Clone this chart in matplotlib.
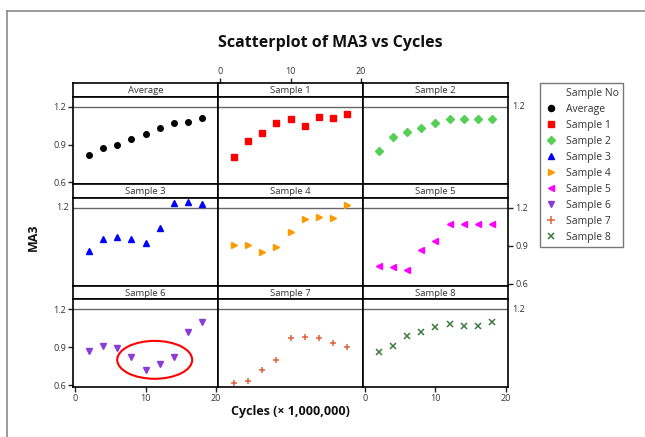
import matplotlib
matplotlib.use("Agg")
import matplotlib.pyplot as plt
from matplotlib.lines import Line2D
from matplotlib.patches import Ellipse

plt.rcParams['font.family'] = ['Open Sans', 'DejaVu Sans']

cycles = [2, 4, 6, 8, 10, 12, 14, 16, 18]
panel_names = ["Average", "Sample 1", "Sample 2", "Sample 3", "Sample 4",
               "Sample 5", "Sample 6", "Sample 7", "Sample 8"]
average = [0.82, 0.87, 0.90, 0.94, 0.98, 1.03, 1.07, 1.08, 1.11]
sample1 = [0.80, 0.93, 0.99, 1.07, 1.10, 1.05, 1.12, 1.11, 1.14]
sample2 = [0.85, 0.96, 1.00, 1.03, 1.07, 1.10, 1.10, 1.10, 1.10]
sample3 = [0.86, 0.95, 0.97, 0.95, 0.92, 1.04, 1.24, 1.25, 1.23]
sample4 = [0.91, 0.91, 0.85, 0.89, 1.01, 1.11, 1.13, 1.12, 1.22]
sample5 = [0.74, 0.73, 0.71, 0.87, 0.94, 1.07, 1.07, 1.07, 1.07]
sample6 = [0.87, 0.91, 0.89, 0.82, 0.72, 0.77, 0.82, 1.02, 1.10]
sample7 = [0.62, 0.63, 0.72, 0.80, 0.97, 0.98, 0.97, 0.93, 0.90]
sample8 = [0.86, 0.91, 0.99, 1.02, 1.06, 1.08, 1.07, 1.07, 1.10]
series = [average, sample1, sample2, sample3, sample4, sample5, sample6, sample7, sample8]
ref_value = 1.2
x_ticks = [0, 10, 20]
y_ticks = [0.6, 0.9, 1.2]

markers = ['o', 's', 'D', '^', '>', '<', 'v', '+', 'x']
colors = ['#000000', '#ff0000', '#55d055', '#0000ff', '#ff9900', '#ff00ff',
          '#8a3cd6', '#e2633a', '#3a7a3a']
sizes = [4.0, 4.0, 3.8, 4.6, 4.6, 4.6, 4.6, 5.0, 4.2]
mews = [1.0, 1.0, 1.0, 1.0, 1.0, 1.0, 1.0, 1.1, 1.1]

W, H = 645, 437
fig = plt.figure(figsize=(W / 100, H / 100), dpi=100)


def box(x0, y0, x1, y1):
    return [x0 / W, 1 - y1 / H, (x1 - x0) / W, (y1 - y0) / H]


# outer frame
fig.add_artist(Line2D([7 / W, 7 / W], [1 - 11 / H, 0], color='#8a8a8a', lw=1.2))
fig.add_artist(Line2D([7 / W, 1], [1 - 11 / H, 1 - 11 / H], color='#8a8a8a', lw=1.2))

col_edges = [73, 218, 363, 508]
row_tops = [83, 184.3, 285.7]
row_h = 101.3
head_h = 13.5
xlim = (-0.25, 20.25)
ylim = (0.585, 1.28)
tick_kw = dict(labelsize=6.5, labelcolor='#333333', length=3.5, width=1, color='#222222')

for i, (name, vals) in enumerate(zip(panel_names, series)):
    r, c = divmod(i, 3)
    x0, x1 = col_edges[c], col_edges[c + 1]
    top = row_tops[r]
    # header
    hax = fig.add_axes(box(x0, top, x1, top + head_h))
    hax.set_xlim(*xlim)
    hax.set_yticks([])
    hax.text(0.5, 0.45, name, transform=hax.transAxes, ha='center', va='center',
             fontsize=6.8, color='#333333')
    for s in hax.spines.values():
        s.set_linewidth(1.2)
    if r == 0 and c == 1:
        hax.xaxis.tick_top()
        hax.set_xticks(x_ticks)
        hax.tick_params(axis='x', **tick_kw, pad=1.5)
    else:
        hax.set_xticks([])
    # data axes
    ax = fig.add_axes(box(x0, top + head_h, x1, top + row_h))
    ax.set_xlim(*xlim)
    ax.set_ylim(*ylim)
    for s in ax.spines.values():
        s.set_linewidth(1.2)
    ax.axhline(ref_value, color='#666666', lw=1.0, zorder=1)
    ax.plot(cycles, vals, ls='none', marker=markers[i], ms=sizes[i],
            color=colors[i], mew=mews[i], zorder=3)
    # x ticks
    if r == 2 and c in (0, 2):
        ax.set_xticks(x_ticks)
        ax.tick_params(axis='x', **tick_kw, pad=1.5)
    else:
        ax.set_xticks([])
    # y ticks
    if c == 0 and r in (0, 2):
        ax.set_yticks(y_ticks)
        ax.set_yticklabels(['0.6', '0.9', '1.2'])
        ax.tick_params(axis='y', **tick_kw, pad=1.5)
    elif c == 2 and r == 1:
        ax.yaxis.tick_right()
        ax.set_yticks(y_ticks)
        ax.set_yticklabels(['0.6', '0.9', '1.2'])
        ax.tick_params(axis='y', **tick_kw, pad=2)
    else:
        ax.set_yticks([])
    # reference line labels
    if c == 2 and r in (0, 2):
        ax.text(1.03, ref_value, '1.2', transform=ax.get_yaxis_transform(),
                ha='left', va='center', fontsize=6.5, color='#333333')
    if c == 0 and r == 1:
        ax.text(-0.025, ref_value, '1.2', transform=ax.get_yaxis_transform(),
                ha='right', va='center', fontsize=6.5, color='#333333')
    if name == "Sample 6":
        ax.add_patch(Ellipse((11.3, 0.80), 10.6, 0.30, fill=False,
                             edgecolor='#ff0000', lw=1.5, zorder=4))

fig.text(330 / W, 1 - 43 / H, 'Scatterplot of MA3 vs Cycles', ha='center', va='center',
         fontsize=11.5, fontweight='bold', color='#111111')
fig.text(290 / W, 1 - 412 / H, 'Cycles (\u00d7 1,000,000)', ha='center', va='center',
         fontsize=9, fontweight='bold', color='#111111')
fig.text(33 / W, 1 - 237 / H, 'MA3', ha='center', va='center', rotation=90,
         fontsize=9, fontweight='bold', color='#111111')

handles = [Line2D([], [], ls='none', marker=None)]
handles += [Line2D([], [], ls='none', marker=m, ms=s + 0.4, color=col, mew=mw)
            for m, s, col, mw in zip(markers, sizes, colors, mews)]
labels = ['Sample No'] + panel_names
leg = fig.legend(handles, labels, loc='upper left',
                 bbox_to_anchor=(540 / W, 1 - 83 / H), fontsize=7.5,
                 frameon=True, fancybox=False, edgecolor='#555555',
                 handlelength=1.3, handletextpad=0.7, borderpad=0.45,
                 labelspacing=0.48, borderaxespad=0)
leg.get_frame().set_linewidth(1.0)
for t in leg.get_texts():
    t.set_color('#333333')

fig.savefig('out.png', dpi=100)
